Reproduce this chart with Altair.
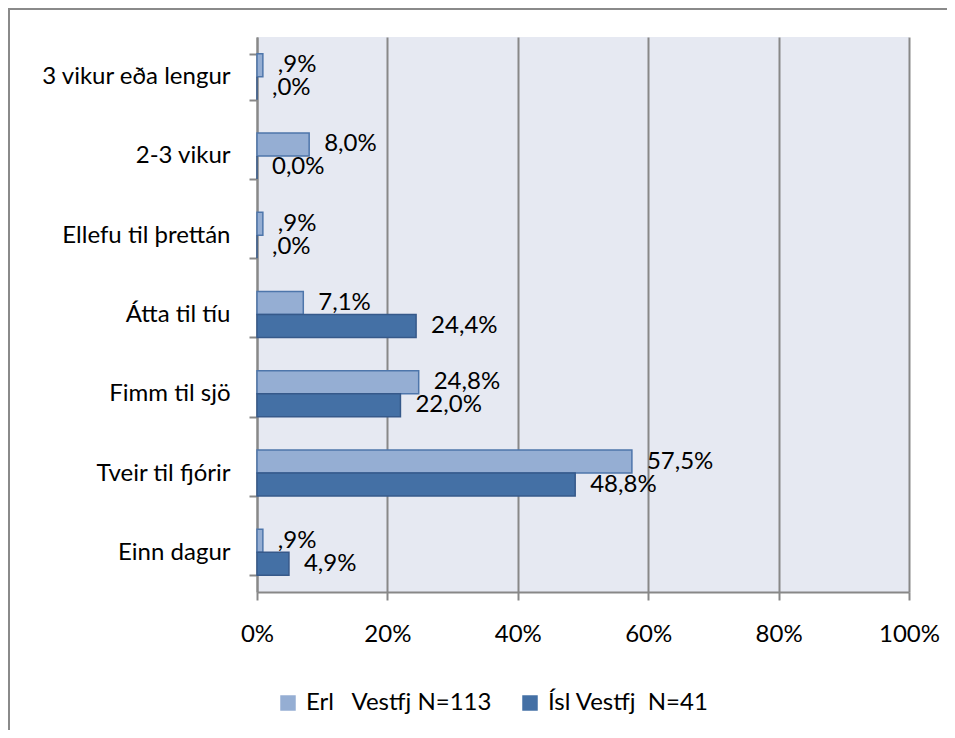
import altair as alt
import pandas as pd

categories = ["3 vikur eða lengur", "2-3 vikur", "Ellefu til þrettán", "Átta til tíu",
              "Fimm til sjö", "Tveir til fjórir", "Einn dagur"]
series = ["Erl\u00a0\u00a0 Vestfj N=113", "Ísl Vestfj\u00a0\u00a0N=41"]
erl_values = [0.9, 8.0, 0.9, 7.1, 24.8, 57.5, 0.9]
isl_values = [0.0, 0.0, 0.0, 24.4, 22.0, 48.8, 4.9]
erl_labels = [",9%", "8,0%", ",9%", "7,1%", "24,8%", "57,5%", ",9%"]
isl_labels = [",0%", "0,0%", ",0%", "24,4%", "22,0%", "48,8%", "4,9%"]
x_ticks = [0, 20, 40, 60, 80, 100]
fill_colors = ["#95AED3", "#4470A5"]
stroke_colors = ["#4E76AB", "#36598A"]

rows = []
for s, vals, labs in [(series[0], erl_values, erl_labels), (series[1], isl_values, isl_labels)]:
    for c, v, l in zip(categories, vals, labs):
        rows.append({"category": c, "series": s, "value": v, "label": l})
df = pd.DataFrame(rows)

FONT = "Lato"
FS = 24
GRID = "#888888"

y_enc = alt.Y("category:N", sort=categories,
              scale=alt.Scale(paddingInner=0.42, paddingOuter=0.21),
              axis=alt.Axis(title=None, tickBand="extent", tickSize=8, tickColor=GRID,
                            tickWidth=2, domainColor=GRID, domainWidth=2,
                            labelFont=FONT, labelFontSize=FS, labelColor="#000000",
                            labelPadding=19, labelLimit=400, grid=False))
x_enc = alt.X("value:Q", scale=alt.Scale(domain=[0, 100]),
              axis=alt.Axis(title=None, values=x_ticks, labelExpr="datum.value + '%'",
                            grid=True, gridColor=GRID, gridWidth=2,
                            tickSize=8, tickColor=GRID, tickWidth=2,
                            domainColor=GRID, domainWidth=2, labelFlush=False,
                            labelFont=FONT, labelFontSize=FS, labelColor="#000000",
                            labelPadding=22))
yoff = alt.YOffset("series:N", sort=series)

base = alt.Chart(df)

bars = base.mark_bar(strokeWidth=1.5).encode(
    x=x_enc,
    y=y_enc,
    yOffset=yoff,
    fill=alt.Fill("series:N", sort=series,
                  scale=alt.Scale(domain=series, range=fill_colors),
                  legend=alt.Legend(title=None, orient="none", legendX=19, legendY=654,
                                    direction="horizontal", symbolType="square",
                                    symbolSize=240, symbolStrokeWidth=1.5,
                                    labelFont=FONT, labelFontSize=FS, labelColor="#000000",
                                    labelOffset=6, columnPadding=25, labelLimit=400)),
    stroke=alt.Stroke("series:N", sort=series,
                      scale=alt.Scale(domain=series, range=stroke_colors),
                      legend=None),
)

labels = base.mark_text(align="left", baseline="middle", dx=15, font=FONT,
                        fontSize=FS, color="#000000").encode(
    x="value:Q",
    y=alt.Y("category:N", sort=categories),
    yOffset=yoff,
    text="label:N",
)

frame = alt.Chart(pd.DataFrame({"f": [0]})).mark_rect(
    fill=None, stroke="#8A8A8A", strokeWidth=2).encode(
    x=alt.value(-248), x2=alt.value(1200), y=alt.value(-28), y2=alt.value(1200))

chart = alt.layer(bars, labels, frame).resolve_scale(fill="independent").properties(
    width=652, height=555,
    autosize=alt.AutoSizeParams(type="none"),
    padding={"left": 249, "top": 29, "right": 38, "bottom": 138},
).configure_view(fill="#E6E9F2", stroke=None)

chart.save("out.html", embed_options={"renderer": "svg", "actions": False})
